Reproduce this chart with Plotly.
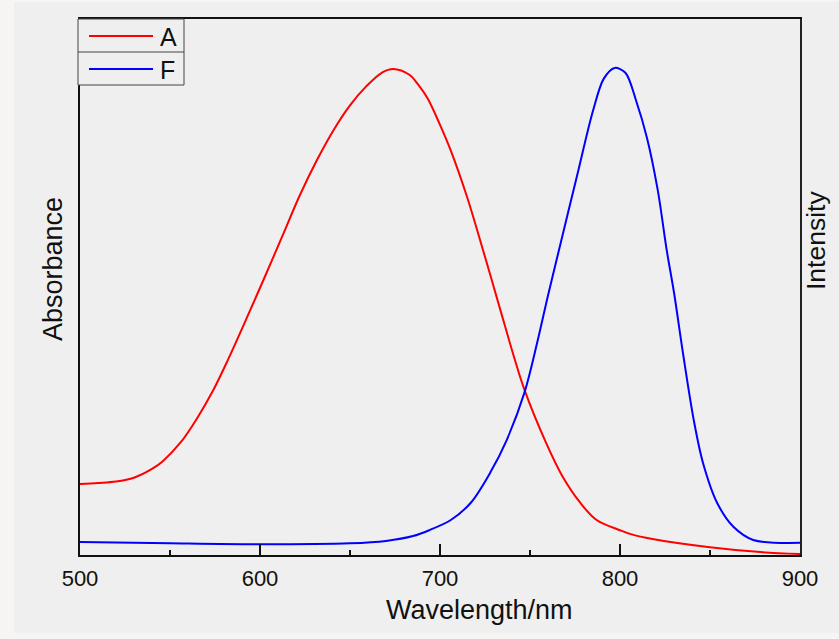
import plotly.graph_objects as go

# Absorbance (A) spectrum, normalised
wl_a = [500, 510, 520, 530, 540, 546, 556, 565, 574, 582, 594, 603, 613, 622, 632,
        641, 650, 659, 668, 674, 683, 688, 693, 700, 706, 715, 724, 733, 741, 747, 759,
        768, 778, 787, 800, 806, 818, 850, 878, 900]
abs_a = [0.146, 0.148, 0.151, 0.159, 0.177, 0.193, 0.232, 0.281, 0.339, 0.400, 0.499,
         0.575, 0.661, 0.739, 0.815, 0.875, 0.925, 0.964, 0.993, 1.000, 0.988, 0.967,
         0.940, 0.885, 0.832, 0.737, 0.626, 0.511, 0.409, 0.339, 0.230, 0.162, 0.107,
         0.072, 0.051, 0.043, 0.033, 0.016, 0.006, 0.002]

# Fluorescence (F) spectrum, normalised
wl_f = [500, 550, 600, 650, 670, 685, 694, 706, 717, 728, 737, 747, 754, 760, 766,
        776, 785, 791, 797, 803, 809, 815, 821, 826, 830, 835, 841, 846, 854, 863,
        874, 900]
int_f = [0.027, 0.024, 0.022, 0.024, 0.029, 0.039, 0.051, 0.072, 0.107, 0.170, 0.236,
         0.335, 0.437, 0.534, 0.626, 0.778, 0.914, 0.980, 1.002, 0.992, 0.934, 0.858,
         0.750, 0.626, 0.540, 0.415, 0.277, 0.191, 0.107, 0.058, 0.031, 0.025]

x_ticks = [500, 600, 700, 800, 900]
series_names = ["A", "F"]
series_colors = ["#ff0000", "#0000ff"]

FONT = "Arial, Liberation Sans, sans-serif"
W, H = 839, 639
L, R, T, B = 80, 39, 19, 84
PW, PH = W - L - R, H - T - B
YMAX = (555 - 18) / 487.0

def px_x(p):
    return (p - L) / PW

def px_y(p):
    return (H - B - p) / PH

fig = go.Figure()
fig.add_trace(go.Scatter(x=wl_a, y=abs_a, name=series_names[0], mode="lines",
                         line=dict(color=series_colors[0], width=2, shape="spline", smoothing=1.0)))
fig.add_trace(go.Scatter(x=wl_f, y=int_f, name=series_names[1], mode="lines", yaxis="y2",
                         line=dict(color=series_colors[1], width=2, shape="spline", smoothing=0.9)))

# legend box drawn to match the original's boxed two-row legend
leg_shapes = [
    dict(type="rect", xref="paper", yref="paper", layer="above",
         x0=px_x(78), x1=px_x(184), y0=px_y(85), y1=px_y(19),
         fillcolor="#efefef", line=dict(color="#444", width=1)),
    dict(type="line", xref="paper", yref="paper", layer="above",
         x0=px_x(78), x1=px_x(184), y0=px_y(52), y1=px_y(52),
         line=dict(color="#444", width=1)),
]
leg_annots = []
for i, (nm, col) in enumerate(zip(series_names, series_colors)):
    yc = 36 + 33 * i
    leg_shapes.append(dict(type="line", xref="paper", yref="paper", layer="above",
                           x0=px_x(89), x1=px_x(153), y0=px_y(yc), y1=px_y(yc),
                           line=dict(color=col, width=2)))
    leg_annots.append(dict(text=nm, xref="paper", yref="paper", x=px_x(158), y=px_y(yc + 1),
                           xanchor="left", yanchor="middle", showarrow=False,
                           font=dict(size=25, family=FONT, color="#111")))

fig.update_layout(
    width=W, height=H,
    margin=dict(l=L, r=R, t=T, b=B),
    paper_bgcolor="#f6f5f3",
    plot_bgcolor="rgba(0,0,0,0)",
    showlegend=False,
    font=dict(family=FONT, color="#111111"),
    xaxis=dict(range=[500, 900], tickvals=x_ticks, ticks="inside", ticklen=11,
               tickwidth=1.5, tickcolor="#111", showline=True, linecolor="#111",
               linewidth=2, mirror=True, showgrid=False, zeroline=False,
               tickfont=dict(size=22, family=FONT), ticklabelstandoff=3,
               minor=dict(dtick=50, ticks="inside", ticklen=5, tickwidth=1.5,
                          tickcolor="#111", showgrid=False)),
    yaxis=dict(range=[0, YMAX], showticklabels=False, ticks="", showline=True,
               linecolor="#111", linewidth=2, showgrid=False, zeroline=False),
    yaxis2=dict(range=[0, YMAX], overlaying="y", side="right", showticklabels=False,
                ticks="", showline=True, linecolor="#222", linewidth=2,
                showgrid=False, zeroline=False),
    shapes=[
        dict(type="rect", xref="paper", yref="paper", layer="below",
             x0=px_x(14), x1=px_x(839), y0=px_y(633), y1=px_y(2),
             fillcolor="#efefef", line=dict(width=0)),
    ] + leg_shapes,
    annotations=[
        dict(text="Wavelength/nm", xref="paper", yref="paper", x=px_x(479), y=px_y(610),
             xanchor="center", yanchor="middle", showarrow=False,
             font=dict(size=27, family=FONT, color="#111")),
        dict(text="Absorbance", xref="paper", yref="paper", x=px_x(53), y=px_y(269),
             xanchor="center", yanchor="middle", showarrow=False, textangle=-90,
             font=dict(size=27, family=FONT, color="#111")),
        dict(text="Intensity", xref="paper", yref="paper", x=px_x(816), y=px_y(241),
             xanchor="center", yanchor="middle", showarrow=False, textangle=-90,
             font=dict(size=26.5, family=FONT, color="#111")),
    ] + leg_annots,
)

fig.write_html("out.html", config={"displayModeBar": False},
               post_script="document.body.style.margin='0';"
                           "document.body.style.background='#f6f5f3';")
